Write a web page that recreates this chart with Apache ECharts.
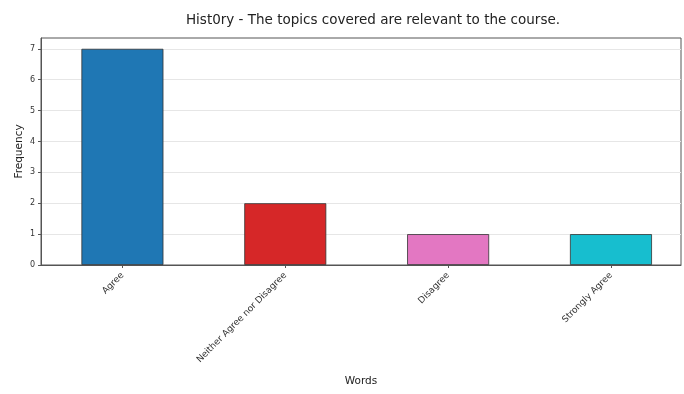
<!DOCTYPE html>
<html><head><meta charset="utf-8">
<script src="https://cdn.jsdelivr.net/npm/echarts@6/dist/echarts.min.js"></script>
<style>html,body{margin:0;padding:0;background:#fff}#c{width:684px;height:394px}</style>
</head><body><div id="c"></div>
<script>
const categories = ["Agree", "Neither Agree nor Disagree", "Disagree", "Strongly Agree"];
const values = [7, 2, 1, 1];
const barColors = ["#1f77b4", "#d62728", "#e377c2", "#17becf"];
const yTicks = [0, 1, 2, 3, 4, 5, 6, 7];

const chart = echarts.init(document.getElementById('c'));
const font = 'DejaVu Sans';
chart.setOption({
  animation: false,
  textStyle: { fontFamily: font },
  title: {
    text: 'Hist0ry - The topics covered are relevant to the course.',
    left: 368, top: 8, textAlign: 'center',
    textStyle: { fontFamily: font, fontSize: 13.5, fontWeight: 'normal', color: '#222' }
  },
  grid: { left: 41, right: 3, top: 38, bottom: 129, show: true, borderColor: '#555', borderWidth: 1, containLabel: false },
  xAxis: {
    type: 'value', min: -0.5, max: 3.43,
    name: 'Words', nameLocation: 'middle', nameGap: 111, nameMoveOverlap: false,
    nameTextStyle: { fontFamily: font, fontSize: 10.5, color: '#222' },
    axisLine: { show: true, onZero: false, lineStyle: { color: '#555' } },
    axisTick: { show: true, customValues: [0, 1, 2, 3], length: 3, lineStyle: { color: '#555' } },
    axisLabel: {
      customValues: [0, 1, 2, 3], rotate: 45, fontSize: 9, color: '#333', margin: 9,
      formatter: v => categories[Math.round(v)] || ''
    },
    splitLine: { show: false }
  },
  yAxis: {
    type: 'value', min: 0, max: 7.35,
    name: 'Frequency', nameLocation: 'middle', nameGap: 16, nameRotate: 90, nameMoveOverlap: false,
    nameTextStyle: { fontFamily: font, fontSize: 10.5, color: '#222' },
    axisLine: { show: true, onZero: false, lineStyle: { color: '#555' } },
    axisTick: { show: true, customValues: yTicks, length: 3, lineStyle: { color: '#555' } },
    axisLabel: { customValues: yTicks, fontSize: 8, color: '#333', margin: 6 },
    splitLine: { show: true, lineStyle: { color: '#e6e6e6', width: 1 } }
  },
  series: [{
    type: 'bar',
    barWidth: 82,
    data: values.map((v, i) => ({
      value: [i, v],
      itemStyle: { color: barColors[i], borderColor: '#333', borderWidth: 0.8 }
    }))
  }]
});
</script></body></html>
